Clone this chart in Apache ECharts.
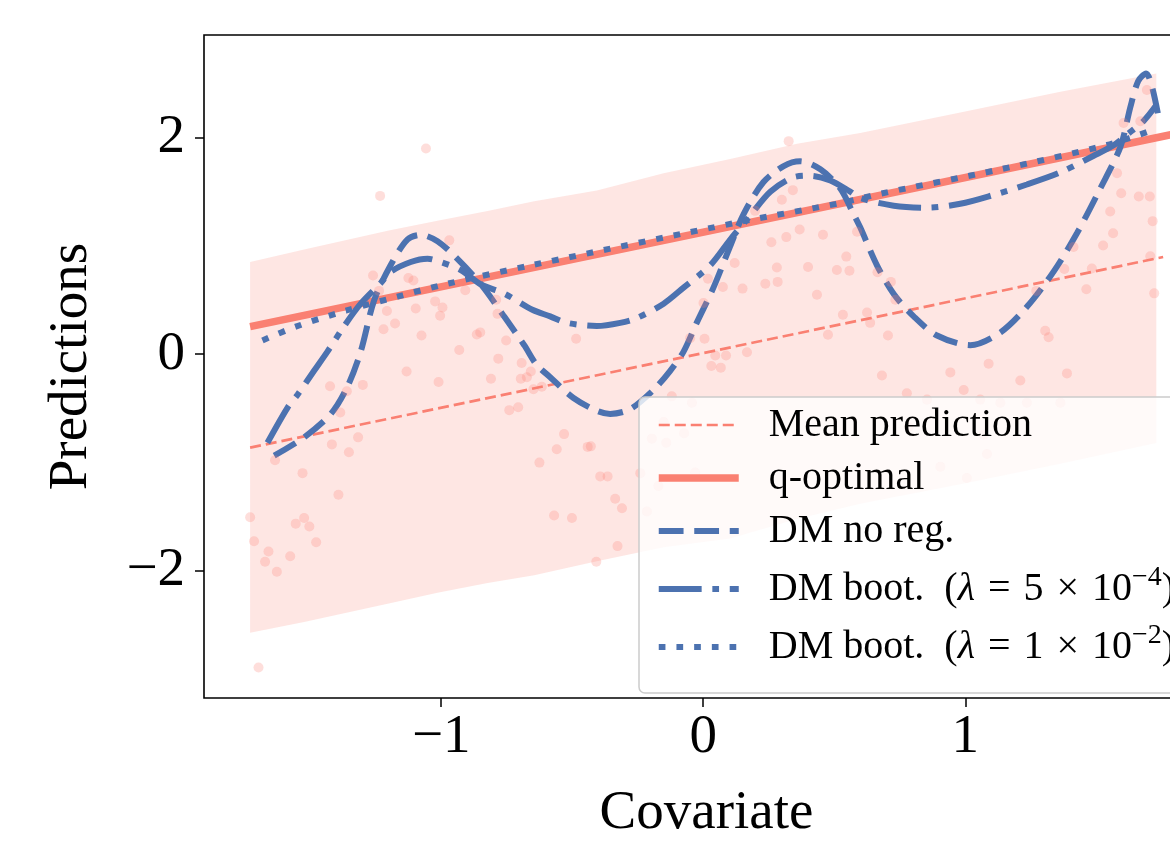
<!DOCTYPE html>
<html>
<head>
<meta charset="utf-8">
<title>Predictions vs covariate</title>
<script src="https://cdn.jsdelivr.net/npm/echarts@6/dist/echarts.min.js"></script>
<style>
  html, body { margin: 0; padding: 0; overflow: hidden; background: #fff; }
  #chart { width: 1260px; height: 846px; }
</style>
</head>
<body>
<div id="chart"></div>
<script>
const SERIF = "'Liberation Serif', 'Times New Roman', serif";
const SALMON = '#FA8072';
const BLUE = '#4C72B0';

// shaded band, upper and lower edge
const bandX = [-1.729, -1.523, -1.2, -1.014, -0.823, -0.645, -0.406, -0.151, 0.103, 0.358, 0.599, 0.981, 1.363, 1.729];
const bandUpper = [0.85, 0.965, 1.14, 1.23, 1.32, 1.41, 1.51, 1.67, 1.80, 1.94, 2.04, 2.23, 2.42, 2.59];
const bandLower = [-2.57, -2.47, -2.30, -2.20, -2.11, -2.04, -1.91, -1.78, -1.70, -1.52, -1.38, -1.20, -1.01, -0.82];

const meanX = [-1.729, 1.755];
const meanY = [-0.862, 0.896];

const qOptX = [-1.729, 1.93];
const qOptY = [0.254, 2.098];

const noRegX = [-1.637, -1.523, -1.421, -1.358, -1.307, -1.256, -1.193, -1.129, -1.078, -1.014, -0.938, -0.848, -0.760, -0.683, -0.637, -0.584, -0.495, -0.406, -0.355, -0.279, -0.190, -0.126, -0.075, -0.025, 0.039, 0.103, 0.154, 0.230, 0.307, 0.370, 0.447, 0.523, 0.574, 0.599, 0.663, 0.727, 0.803, 0.892, 1.019, 1.134, 1.235, 1.337, 1.426, 1.515, 1.592, 1.63, 1.66, 1.69, 1.712, 1.735];
const noRegY = [-0.935, -0.767, -0.551, -0.301, 0.024, 0.496, 0.82, 1.057, 1.101, 1.042, 0.88, 0.643, 0.349, 0.083, -0.094, -0.212, -0.404, -0.522, -0.551, -0.507, -0.330, -0.153, 0.024, 0.289, 0.614, 0.997, 1.292, 1.588, 1.735, 1.779, 1.705, 1.528, 1.29, 1.17, 0.82, 0.555, 0.349, 0.172, 0.083, 0.201, 0.437, 0.761, 1.115, 1.528, 1.912, 2.28, 2.52, 2.59, 2.47, 2.22];

const boot5X = [-1.663, -1.586, -1.548, -1.485, -1.434, -1.370, -1.307, -1.230, -1.192, -1.116, -1.052, -1.001, -0.925, -0.848, -0.760, -0.652, -0.584, -0.520, -0.406, -0.317, -0.253, -0.151, -0.075, 0.027, 0.103, 0.179, 0.256, 0.345, 0.408, 0.485, 0.561, 0.599, 0.727, 0.854, 0.981, 1.108, 1.235, 1.363, 1.490, 1.566, 1.62, 1.68, 1.73];
const boot5Y = [-0.817, -0.492, -0.374, -0.153, 0.024, 0.26, 0.466, 0.658, 0.761, 0.850, 0.88, 0.850, 0.776, 0.643, 0.56, 0.41, 0.349, 0.289, 0.26, 0.289, 0.334, 0.466, 0.614, 0.82, 1.057, 1.278, 1.499, 1.632, 1.646, 1.602, 1.499, 1.44, 1.37, 1.351, 1.387, 1.469, 1.565, 1.677, 1.83, 1.927, 2.03, 2.15, 2.3];

const boot1X = [-1.682, -1.555, -1.364, -1.167, -0.976, -0.645, 0.141, 0.536, 0.676, 1.134, 1.541, 1.73];
const boot1Y = [0.127, 0.254, 0.401, 0.531, 0.65, 0.826, 1.22, 1.40, 1.48, 1.705, 1.93, 2.08];

// observed points
const pointsX = [-1.058, -1.233, -0.969, -1.260, -1.125, -1.106, -1.237, -0.908, -1.023, -0.995, -1.097, -1.207, -1.004, -0.790, -0.785, -1.176, -1.220, -1.075, -0.864, -0.851, -0.752, -0.931,
  0.326, 0.342, 0.300, 0.198, 0.368, 0.317, 0.260, 0.457, 0.587, 0.120, 0.281, 0.400, 0.546, 0.510, 0.558, 0.018, 0.075, 0.150, 0.237, 0.284, 0.434, 0.001, 0.533, 0.476, -0.485, 0.005, -0.050,
  1.693, 1.604, 1.668, 1.579, 1.595, 1.662, 1.704, 1.553, 1.715, 1.564, 1.526, 1.413, 1.706, 1.483, 1.378, 0.665, 0.716, 0.733, 1.271, 1.462, 1.721, 0.625, 0.637, 0.705, 1.305, 1.318,
  -1.729, -1.714, -1.659, -1.672, -1.627, -1.576, -1.555, -1.523, -1.503, -1.477, -1.529, -1.634, -1.392, -1.417, -1.352, -1.317, -1.385, -1.424, -1.360, -1.299, -1.132, -1.010, -0.810, -0.782, -0.693, -0.696, -0.673, -0.658, -0.740, -0.706, -0.648, -1.697,
  -0.616, -0.531, -0.559, -0.625, -0.441, -0.429, -0.393, -0.365, -0.336, -0.310, -0.569, -0.501, -0.327, -0.408, 0.031, 0.067, 0.046, 0.087, 0.167, -0.120, -0.043, -0.151, -0.073, -0.196, -0.141, -0.240, -0.171, -0.031, -0.215,
  0.682, 0.943, 1.089, 1.210, 1.388, 0.777, 0.854, 0.994, 1.057, 1.134, 1.235, 1.363, 0.784, 1.070, 0.905, 1.083, 1.006];
const pointsY = [1.897, 1.460, 1.050, 0.726, 0.703, 0.679, 0.584, 0.590, 0.487, 0.431, 0.422, 0.398, 0.354, 0.502, 0.372, 0.283, 0.230, 0.172, 0.181, 0.201, 0.127, 0.039,
  1.965, 1.513, 1.425, 1.322, 1.150, 1.080, 1.033, 1.101, 1.130, 0.841, 0.800, 0.805, 0.900, 0.776, 0.770, 0.696, 0.620, 0.605, 0.649, 0.667, 0.549, 0.472, 0.363, 0.180, 0.142, 0.142, 0.148,
  2.437, 2.133, 2.148, 1.670, 1.484, 1.455, 1.455, 1.316, 1.227, 1.115, 1.003, 0.988, 0.903, 0.791, 0.785, 0.756, 0.667, 0.502, 0.584, 0.599, 0.561, 0.384, 0.289, 0.172, 0.216, 0.157,
  -1.504, -1.726, -1.820, -1.914, -2.006, -1.864, -1.563, -1.510, -1.589, -1.734, -1.097, -0.979, -1.297, -0.832, -0.905, -0.767, -0.537, -0.295, -0.342, -0.283, -0.159, -0.257, -0.227, -0.041, -0.082, -0.227, -0.212, -0.159, -0.516, -0.489, -0.324, -2.890,
  -0.301, -0.737, -0.876, -1.000, -0.855, -0.850, -1.127, -1.127, -1.333, -1.421, -1.487, -1.510, -1.770, -1.914, -0.109, -0.124, -0.012, -0.012, 0.018, -0.389, -0.448, -0.625, -0.728, -0.779, -0.817, -1.097, -1.215, -1.091, -1.451,
  -0.197, -0.168, -0.088, -0.242, -0.177, -0.360, -0.419, -0.330, -0.419, -0.448, -0.448, -0.448, -0.669, -0.743, -1.038, -0.920, -1.142];

const xTicks = [-1, 0, 1];
const yTicks = [-2, 0, 2];

const zip = (xs, ys) => xs.map((x, i) => [x, ys[i]]);
const minus = v => (v < 0 ? '\u2212' + Math.abs(v) : String(v));

const legendLabels = {
  'Mean prediction': '{n|Mean prediction}',
  'q-optimal': '{n|q-optimal}',
  'DM no reg.': '{n|DM no reg.}',
  'boot5': '{t|DM boot.}{gap|}{t|(}{m|\u03bb}{sp|}{t|=}{sp|}{t|5}{sp|}{t|\u00d7}{sp|}{t|10}{s|\u22124}{t|)}',
  'boot1': '{t|DM boot.}{gap|}{t|(}{m|\u03bb}{sp|}{t|=}{sp|}{t|1}{sp|}{t|\u00d7}{sp|}{t|10}{s|\u22122}{t|)}'
};

const dashNoReg = [24.8, 10.7];
const dashBoot5 = [42.9, 10.7, 6.7, 10.7];
const dashBoot1 = [6.7, 11];
const dashMean = [11, 5];

const chart = echarts.init(document.getElementById('chart'));

chart.setOption({
  animation: false,
  grid: {
    left: 204, top: 35, right: 51, bottom: 120,
    show: true, borderColor: '#000', borderWidth: 1.6, backgroundColor: 'transparent'
  },
  xAxis: {
    type: 'value', min: -1.905, max: 1.93,
    name: 'Covariate', nameLocation: 'middle', nameGap: 88,
    nameTextStyle: { fontFamily: SERIF, fontSize: 55, color: '#000' },
    axisLine: { show: false, onZero: false },
    splitLine: { show: false },
    axisTick: { show: true, length: 9, customValues: xTicks, lineStyle: { color: '#000', width: 1.5 } },
    axisLabel: { customValues: xTicks, formatter: minus, margin: 12, fontFamily: SERIF, fontSize: 55, color: '#000' }
  },
  yAxis: {
    type: 'value', min: -3.171, max: 2.944,
    name: 'Predictions', nameLocation: 'middle', nameGap: 105,
    nameTextStyle: { fontFamily: SERIF, fontSize: 55, color: '#000' },
    axisLine: { show: false, onZero: false },
    splitLine: { show: false },
    axisTick: { show: true, length: 9, customValues: yTicks, lineStyle: { color: '#000', width: 1.5 } },
    axisLabel: { customValues: yTicks, formatter: minus, margin: 19, fontFamily: SERIF, fontSize: 55, color: '#000' }
  },
  legend: {
    orient: 'vertical',
    left: 639, top: 397,
    padding: [8, 80, 26, 16],
    itemWidth: 80, itemHeight: 20, itemGap: 13,
    backgroundColor: 'rgba(255,255,255,0.8)',
    borderColor: '#cccccc', borderWidth: 1.5, borderRadius: 6,
    selectedMode: false,
    formatter: name => legendLabels[name],
    textStyle: {
      fontFamily: SERIF, fontSize: 40, color: '#000', padding: [0, 0, 0, 25],
      rich: {
        n: { fontFamily: SERIF, fontSize: 40, lineHeight: 44, color: '#000' },
        t: { fontFamily: SERIF, fontSize: 40, lineHeight: 50, color: '#000' },
        gap: { width: 20, lineHeight: 50 },
        sp: { width: 13, lineHeight: 50 },
        m: { fontFamily: SERIF, fontSize: 40, lineHeight: 50, fontStyle: 'italic', color: '#000' },
        s: { fontFamily: SERIF, fontSize: 28, lineHeight: 30, verticalAlign: 'top', color: '#000' }
      }
    },
    data: [
      { name: 'Mean prediction', itemStyle: { opacity: 0 }, lineStyle: { width: 2.7, type: dashMean, color: SALMON } },
      { name: 'q-optimal', itemStyle: { opacity: 0 }, lineStyle: { width: 7.5, type: 'solid', color: SALMON } },
      { name: 'DM no reg.', itemStyle: { opacity: 0 }, lineStyle: { width: 6, type: dashNoReg, color: BLUE } },
      { name: 'boot5', itemStyle: { opacity: 0 }, lineStyle: { width: 6, type: dashBoot5, color: BLUE } },
      { name: 'boot1', itemStyle: { opacity: 0 }, lineStyle: { width: 6, type: dashBoot1, color: BLUE } }
    ]
  },
  series: [
    {
      name: 'band',
      type: 'custom',
      silent: true,
      z: 1,
      data: bandX.map((x, i) => [x, bandUpper[i], bandLower[i]]),
      encode: { x: 0, y: [1, 2] },
      renderItem: function (params, api) {
        if (params.dataIndex !== 0) return;
        const top = bandX.map((x, i) => api.coord([x, bandUpper[i]]));
        const bottom = bandX.map((x, i) => api.coord([x, bandLower[i]])).reverse();
        return {
          type: 'polygon',
          shape: { points: top.concat(bottom) },
          style: { fill: 'rgba(250,128,114,0.2)' }
        };
      }
    },
    {
      name: 'Mean prediction', type: 'line', z: 2, symbol: 'none',
      data: zip(meanX, meanY),
      lineStyle: { color: SALMON, width: 2.7, type: dashMean }
    },
    {
      name: 'q-optimal', type: 'line', z: 2, symbol: 'none',
      data: zip(qOptX, qOptY),
      lineStyle: { color: SALMON, width: 7.5 }
    },
    {
      name: 'DM no reg.', type: 'line', z: 2, symbol: 'none', smooth: 0.3,
      data: zip(noRegX, noRegY),
      lineStyle: { color: BLUE, width: 6, type: dashNoReg }
    },
    {
      name: 'boot5', type: 'line', z: 2, symbol: 'none', smooth: 0.3,
      data: zip(boot5X, boot5Y),
      lineStyle: { color: BLUE, width: 6, type: dashBoot5 }
    },
    {
      name: 'boot1', type: 'line', z: 2, symbol: 'none', smooth: 0.3,
      data: zip(boot1X, boot1Y),
      lineStyle: { color: BLUE, width: 6, type: dashBoot1 }
    },
    {
      name: 'points', type: 'scatter', z: 3, silent: true,
      symbolSize: 10,
      data: zip(pointsX, pointsY),
      itemStyle: { color: 'rgba(250,128,114,0.32)' }
    }
  ]
});
</script>
</body>
</html>
